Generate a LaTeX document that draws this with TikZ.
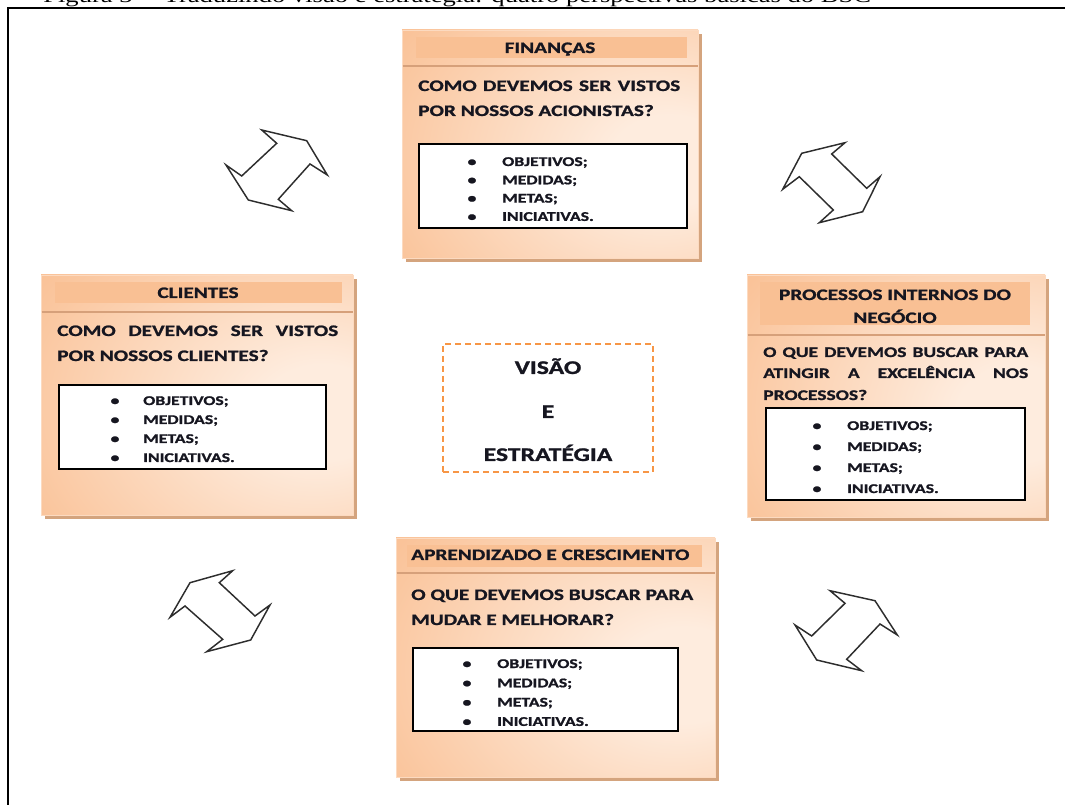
\documentclass[tikz,border=0pt]{standalone}
\usepackage{fontspec}
\setmainfont{Carlito}[FakeStretch=1.33, BoldFeatures={FakeBold=1.2}]
\newfontfamily\capfont{Liberation Serif}[FakeStretch=1.33]
\usetikzlibrary{shadows,fit}
\definecolor{bdark}{RGB}{249,186,138}
\definecolor{blight}{RGB}{254,236,222}
\definecolor{bandc}{RGB}{249,192,148}
\definecolor{shadowc}{RGB}{212,164,126}
\definecolor{sepc}{RGB}{214,160,122}
\definecolor{edgec}{RGB}{252,218,192}
\definecolor{dashc}{RGB}{247,150,70}
\definecolor{txt}{RGB}{22,22,32}
\definecolor{arrowc}{RGB}{45,45,45}
\pgfdeclareradialshading{boxshade}{\pgfpoint{22bp}{-4bp}}{color(0bp)=(blight); color(10bp)=(blight); color(54bp)=(bdark); color(120bp)=(bdark)}
\tikzset{
  persp/.style={draw=edgec, line width=0.7pt, shade, shading=boxshade, inner sep=0pt,
    drop shadow={shadow xshift=3pt, shadow yshift=-3pt, fill=shadowc, opacity=1}},
  bandst/.style={fill=bandc, inner sep=0pt},
  sepline/.style={draw=sepc, line width=1.4pt},
  listbox/.style={draw=black, fill=white, line width=1.1pt, inner sep=0pt},
  ttl/.style={font=\bfseries\fontsize{12}{14}\selectfont, text=txt, inner sep=0pt},
  qtxt/.style={font=\bfseries\fontsize{12}{14}\selectfont, text=txt, inner sep=0pt, anchor=base west},
  qsmall/.style={font=\bfseries\fontsize{11}{13}\selectfont, text=txt, inner sep=0pt, anchor=base west},
  itemtxt/.style={font=\bfseries\fontsize{10}{12}\selectfont, text=txt, inner sep=0pt, anchor=base west},
  bul/.style={font=\bfseries\fontsize{10}{12}\selectfont, text=txt, inner sep=0pt, anchor=base},
  vtxt/.style={font=\bfseries\fontsize{14.5}{17}\selectfont, text=txt, inner sep=0pt, anchor=base},
  arrowshape/.style={draw=arrowc, fill=white, line width=1.1pt, line join=miter},
  visao/.style={draw=dashc, dash pattern=on 4.5pt off 3pt, line width=1.1pt, inner sep=0pt},
}
\begin{document}
\begin{tikzpicture}[x=0.75pt,y=-0.75pt]
\useasboundingbox (0,0) rectangle (1065,805);
% caption (cut off at the top, as in the source)
\node[anchor=base west, font=\capfont\fontsize{15}{18}\selectfont, inner sep=0pt] (cap) at (43,3)
  {Figura 3 -- Traduzindo visão e estratégia: quatro perspectivas básicas do BSC};
% frame
\draw[line width=1.4pt] (8,812) -- (8,8) -- (1072,8);

% ---------------- FINANCAS ----------------
\node[persp, fit={(402,30) (698,258)}] (fin) {};
\node[bandst, fit={(416,37) (687,58)}] (finband) {};
\draw[sepline] (402.5,66) -- (697.5,66);
\node[ttl, anchor=base] (fint) at (550,53) {FINANÇAS};
\node[qtxt] (finq1) at (418,91) {\makebox[196.5pt][s]{COMO DEVEMOS SER VISTOS}};
\node[qtxt] (finq2) at (418,116) {POR NOSSOS ACIONISTAS?};
\node[listbox, fit={(419,144) (687,228)}] (finlist) {};
\foreach \w [count=\i] in {OBJETIVOS;,MEDIDAS;,METAS;,INICIATIVAS.}{
  \node[bul] (finb\i) at (472,{166+(\i-1)*18.3}) {\textbullet};
  \node[itemtxt] (fini\i) at (502,{166+(\i-1)*18.3}) {\w};
}

% ---------------- CLIENTES ----------------
\node[persp, fit={(41,275) (353,515)}] (cli) {};
\node[bandst, fit={(55,282) (342,303)}] (cliband) {};
\draw[sepline] (41.5,312) -- (352.5,312);
\node[ttl, anchor=base] (clit) at (198,298) {CLIENTES};
\node[qtxt] (cliq1) at (57,336) {\makebox[210.75pt][s]{COMO DEVEMOS SER VISTOS}};
\node[qtxt] (cliq2) at (57,361) {POR NOSSOS CLIENTES?};
\node[listbox, fit={(59,385) (326,469)}] (clilist) {};
\foreach \w [count=\i] in {OBJETIVOS;,MEDIDAS;,METAS;,INICIATIVAS.}{
  \node[bul] (clib\i) at (115,{405+(\i-1)*19}) {\textbullet};
  \node[itemtxt] (clii\i) at (143,{405+(\i-1)*19}) {\w};
}

% ---------------- PROCESSOS ----------------
\node[persp, fit={(747,275) (1045,517)}] (pro) {};
\node[bandst, fit={(760,282) (1030,325)}] (proband) {};
\draw[sepline] (747.5,335) -- (1044.5,335);
\node[ttl, anchor=base] (prot1) at (895,300) {PROCESSOS INTERNOS DO};
\node[ttl, anchor=base] (prot2) at (895,323) {NEGÓCIO};
\node[qsmall] (proq1) at (763,357) {\makebox[198.75pt][s]{O QUE DEVEMOS BUSCAR PARA}};
\node[qsmall] (proq2) at (763,378) {\makebox[198.75pt][s]{ATINGIR A EXCELÊNCIA NOS}};
\node[qsmall] (proq3) at (763,400) {PROCESSOS?};
\node[listbox, fit={(766,408) (1025,500)}] (prolist) {};
\foreach \w [count=\i] in {OBJETIVOS;,MEDIDAS;,METAS;,INICIATIVAS.}{
  \node[bul] (prob\i) at (817,{430+(\i-1)*21}) {\textbullet};
  \node[itemtxt] (proi\i) at (847,{430+(\i-1)*21}) {\w};
}

% ---------------- APRENDIZADO ----------------
\node[persp, fit={(396,538) (715,777)}] (apr) {};
\node[bandst, fit={(407,545) (702,567)}] (aprband) {};
\draw[sepline] (396.5,573) -- (714.5,573);
\node[ttl, anchor=base west] (aprt) at (411,560) {APRENDIZADO E CRESCIMENTO};
\node[qtxt] (aprq1) at (411,600) {O QUE DEVEMOS BUSCAR PARA};
\node[qtxt] (aprq2) at (411,625) {MUDAR E MELHORAR?};
\node[listbox, fit={(413,648) (678,731)}] (aprlist) {};
\foreach \w [count=\i] in {OBJETIVOS;,MEDIDAS;,METAS;,INICIATIVAS.}{
  \node[bul] (aprb\i) at (467,{668+(\i-1)*19.3}) {\textbullet};
  \node[itemtxt] (apri\i) at (497,{668+(\i-1)*19.3}) {\w};
}

% ---------------- VISAO E ESTRATEGIA ----------------
\node[visao, fit={(443,344) (653,472)}] (vis) {};
\node[vtxt] (vis1) at (548,374) {VISÃO};
\node[vtxt] (vis2) at (548,418) {E};
\node[vtxt] (vis3) at (548,461) {ESTRATÉGIA};

% ---------------- ARROWS ----------------
\draw[arrowshape] (261.7,130) -- (306.7,140.7) -- (327.3,175) -- (310,164) -- (278.3,199.3)
  -- (291.7,210.7) -- (248.3,200) -- (226,165) -- (241.7,176) -- (276.7,143.3) -- cycle;
\draw[arrowshape] (845,142.7) -- (801.7,153.3) -- (782.7,189.3) -- (799.3,176.7) -- (833.3,210)
  -- (819.3,222.7) -- (862.7,211.7) -- (880,176.7) -- (866.7,188.3) -- (831.7,154) -- cycle;
\draw[arrowshape] (232.7,570.7) -- (190,582.7) -- (170,617.3) -- (185,606) -- (222.7,639.3)
  -- (206.7,651.7) -- (250.7,640) -- (270,605) -- (255,616) -- (219.3,582.7) -- cycle;
\draw[arrowshape] (830,590.7) -- (875,600.7) -- (897.3,635) -- (880,624) -- (846.7,659.3)
  -- (861.7,670.7) -- (816.7,660) -- (795,625) -- (811.7,636) -- (845,603.3) -- cycle;
\end{tikzpicture}
\end{document}
